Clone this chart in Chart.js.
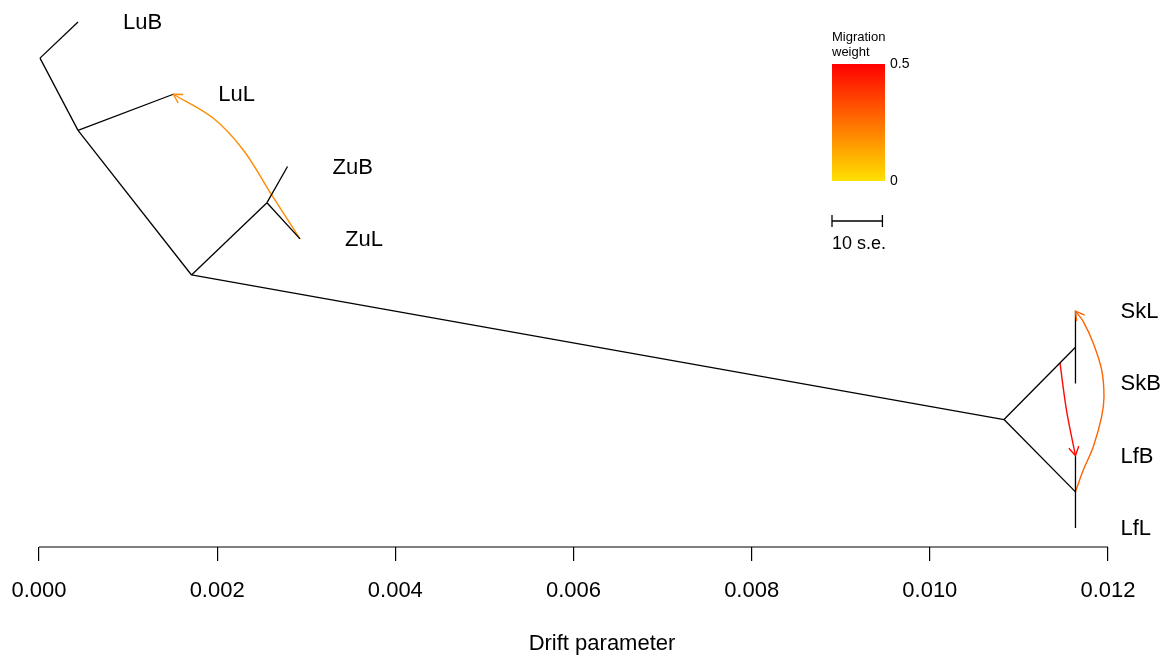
<!DOCTYPE html>
<html>
<head>
<meta charset="utf-8">
<script src="https://cdn.jsdelivr.net/npm/chart.js@4"></script>
<style>
  html, body { margin: 0; padding: 0; background: #fff; }
  #wrap { width: 1167px; height: 661px; }
</style>
</head>
<body>
<div id="wrap"><canvas id="c" width="1167" height="661"></canvas></div>
<script>
// ---- data ----
const tickValues = [0.000, 0.002, 0.004, 0.006, 0.008, 0.010, 0.012];

// tree nodes: internal nodes then tips
const nodeIds     = ['root', 'n1', 'n2', 'n3', 'n4', 'n5', 'n6', 'LuB', 'LuL', 'ZuB', 'ZuL', 'SkL', 'SkB', 'LfB', 'LfL'];
const nodeDrift   = [0.0000112, 0.000438, 0.001712, 0.002559, 0.010833, 0.011635, 0.011635,
                     0.000438, 0.001508, 0.002790, 0.002930, 0.011635, 0.011635, 0.011635, 0.011635];
const nodeY       = [7.5, 6.5, 4.5, 5.5, 2.5, 3.5, 1.5, 8, 7, 6, 5, 4, 3, 2, 1];
const nodeParent  = [null, 'root', 'n1', 'n2', 'n2', 'n4', 'n4', 'root', 'n1', 'n3', 'n3', 'n5', 'n5', 'n6', 'n6'];
const tipLabels   = ['LuB', 'LuL', 'ZuB', 'ZuL', 'SkL', 'SkB', 'LfB', 'LfL'];

// migration edges (points along each drawn curve)
const migZuLtoLuL_x = [0.002930, 0.002612, 0.002293, 0.001957, 0.001508];
const migZuLtoLuL_y = [5.0, 5.607, 6.229, 6.668, 7.0];
const migSkToLfB_x  = [0.011461, 0.011534, 0.011635];
const migSkToLfB_y  = [3.283, 2.632, 2.0];
const migLfToSkL_x  = [0.011635, 0.011723, 0.011835, 0.011929, 0.011955, 0.011929, 0.011835, 0.011723, 0.011635];
const migLfToSkL_y  = [1.5, 1.802, 2.125, 2.540, 2.817, 3.186, 3.555, 3.854, 4.0];
const migWeights    = [0.19, 0.48, 0.28];

const seScale = 0.000566;   // length of "10 s.e." in drift units
const weightMax = 0.5;

// ---- build datasets ----
function weightColor(w) {
  const g = Math.round(225 * (1 - w / weightMax));
  return `rgb(255,${g},0)`;
}
const Y_MIN = 0.737, Y_MAX = 8.304;
const datasets = [];
nodeIds.forEach((id, i) => {
  const p = nodeParent[i];
  if (p === null) return;
  const j = nodeIds.indexOf(p);
  datasets.push({
    data: [{x: nodeDrift[j], y: nodeY[j]}, {x: nodeDrift[i], y: nodeY[i]}],
    borderColor: '#000', borderWidth: 1.3, showLine: true, pointRadius: 0, clip: false
  });
});
const migs = [[migZuLtoLuL_x, migZuLtoLuL_y], [migSkToLfB_x, migSkToLfB_y], [migLfToSkL_x, migLfToSkL_y]];
migs.forEach(([xs, ys], k) => {
  datasets.push({
    data: xs.map((x, i) => ({x, y: ys[i]})),
    borderColor: weightColor(migWeights[k]), borderWidth: 1.4, showLine: true, pointRadius: 0,
    tension: 0.35, clip: false, isMigration: true
  });
});
// axis line from first to last tick
datasets.push({
  data: [{x: tickValues[0], y: Y_MIN}, {x: tickValues[tickValues.length - 1], y: Y_MIN}],
  borderColor: '#000', borderWidth: 1.2, showLine: true, pointRadius: 0, clip: false
});

const FONT = "'Liberation Sans', Arial, Helvetica, sans-serif";

const overlay = {
  id: 'overlay',
  afterDatasetsDraw(chart) {
    const ctx = chart.ctx;
    const xs = chart.scales.x, ys = chart.scales.y;
    ctx.save();
    // arrowheads
    chart.data.datasets.forEach((ds, di) => {
      if (!ds.isMigration) return;
      const meta = chart.getDatasetMeta(di);
      const pts = meta.data;
      const last = pts[pts.length - 1];
      const prev = pts[pts.length - 2];
      let cx = last.cp1x, cy = last.cp1y;
      if (cx === undefined || (Math.abs(cx - last.x) < 0.5 && Math.abs(cy - last.y) < 0.5)) { cx = prev.x; cy = prev.y; }
      const ang = Math.atan2(last.y - cy, last.x - cx);
      const L = 10, a = Math.PI / 6;
      ctx.strokeStyle = ds.borderColor;
      ctx.lineWidth = 1.4;
      ctx.beginPath();
      ctx.moveTo(last.x - L * Math.cos(ang - a), last.y - L * Math.sin(ang - a));
      ctx.lineTo(last.x, last.y);
      ctx.lineTo(last.x - L * Math.cos(ang + a), last.y - L * Math.sin(ang + a));
      ctx.stroke();
    });
    // tip labels
    ctx.fillStyle = '#000';
    ctx.font = `22px ${FONT}`;
    ctx.textAlign = 'left';
    ctx.textBaseline = 'middle';
    tipLabels.forEach(name => {
      const i = nodeIds.indexOf(name);
      ctx.fillText(name, xs.getPixelForValue(nodeDrift[i]) + 45, ys.getPixelForValue(nodeY[i]) + 1);
    });
    // legend: migration weight gradient
    ctx.font = `13px ${FONT}`;
    ctx.fillText('Migration', 832, 37);
    ctx.fillText('weight', 832, 52);
    const gx = 832, gy = 64, gw = 53, gh = 117;
    const grad = ctx.createLinearGradient(0, gy, 0, gy + gh);
    grad.addColorStop(0, weightColor(weightMax));
    grad.addColorStop(1, weightColor(0));
    ctx.fillStyle = grad;
    ctx.fillRect(gx, gy, gw, gh);
    ctx.fillStyle = '#000';
    ctx.font = `14px ${FONT}`;
    ctx.fillText(String(weightMax), gx + gw + 5, gy);
    ctx.fillText('0', gx + gw + 5, gy + gh);
    // scale bar
    const len = xs.getPixelForValue(seScale) - xs.getPixelForValue(0);
    ctx.strokeStyle = '#000';
    ctx.lineWidth = 1.3;
    ctx.beginPath();
    ctx.moveTo(832, 221); ctx.lineTo(832 + len, 221);
    ctx.moveTo(832, 215); ctx.lineTo(832, 227);
    ctx.moveTo(832 + len, 215); ctx.lineTo(832 + len, 227);
    ctx.stroke();
    ctx.font = `18px ${FONT}`;
    ctx.fillText('10 s.e.', 832, 244);
    ctx.restore();
  }
};

new Chart(document.getElementById('c'), {
  type: 'scatter',
  data: { datasets },
  options: {
    responsive: false,
    animation: false,
    events: [],
    layout: { padding: { left: 39, right: 2, top: 0, bottom: 0 } },
    plugins: { legend: { display: false }, tooltip: { enabled: false }, title: { display: false } },
    scales: {
      x: {
        type: 'linear',
        min: 0, max: 0.01264,
        afterBuildTicks: s => { s.ticks = tickValues.map(v => ({value: v})); },
        afterFit: s => { s.height = 114; s.paddingLeft = 0; s.paddingRight = 0; },
        border: { display: false },
        grid: { display: true, drawOnChartArea: false, drawTicks: true, tickLength: 14, color: '#000', lineWidth: 1.2 },
        ticks: {
          autoSkip: false, maxRotation: 0, minRotation: 0, padding: 17, color: '#000',
          font: { size: 22, family: FONT },
          callback: v => Number(v).toFixed(3)
        },
        title: { display: true, text: 'Drift parameter', color: '#000', font: { size: 22, family: FONT }, padding: { top: 0, bottom: 4 } }
      },
      y: { type: 'linear', min: Y_MIN, max: Y_MAX, display: false }
    }
  },
  plugins: [overlay]
});
</script>
</body>
</html>
